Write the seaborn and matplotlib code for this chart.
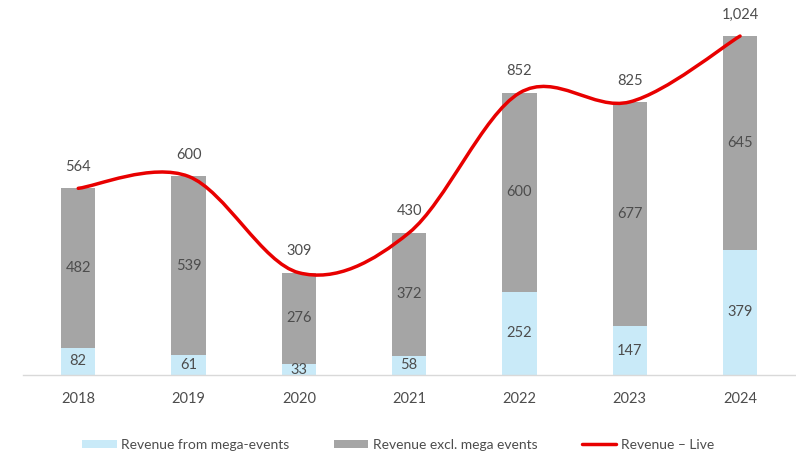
import numpy as np
import pandas as pd
import matplotlib
matplotlib.use("Agg")
import matplotlib.pyplot as plt
from matplotlib.path import Path
from matplotlib.patches import PathPatch, Patch
from matplotlib.lines import Line2D
import seaborn as sns

# Data
years = ["2018", "2019", "2020", "2021", "2022", "2023", "2024"]
mega_events = [82, 61, 33, 58, 252, 147, 379]
excl_mega = [482, 539, 276, 372, 600, 677, 645]
revenue_live = [564, 600, 309, 430, 852, 825, 1024]

BLUE = "#C9EAF8"
GRAY = "#A5A5A5"
RED = "#E80000"
TEXT = "#4D4D4D"

sns.set_theme(style="white")
plt.rcParams["font.family"] = ["Lato", "DejaVu Sans"]

fig = plt.figure(figsize=(7.96, 4.54), dpi=100)
ax = fig.add_axes([0.029, 0.174, 0.97, 0.802])

df = pd.DataFrame({
    "year": years,
    "mega": mega_events,
    "excl": excl_mega,
})
df["stack"] = df["mega"] + df["excl"]

bar_w = 0.31
# full stack in gray, then the mega-events part over it in light blue
sns.barplot(data=df, x="year", y="stack", color=GRAY, width=bar_w,
            saturation=1, errorbar=None, ax=ax, linewidth=0)
sns.barplot(data=df, x="year", y="mega", color=BLUE, width=bar_w,
            saturation=1, errorbar=None, ax=ax, linewidth=0)

# smoothed total line (Catmull-Rom as cubic Bezier segments)
xs = np.arange(len(years), dtype=float)
ys = np.array(revenue_live, dtype=float)
n = len(xs)
verts = [(xs[0], ys[0])]
codes = [Path.MOVETO]
for i in range(n - 1):
    p0 = i - 1 if i > 0 else i
    p3 = i + 2 if i + 2 < n else i + 1
    c1 = (xs[i] + (xs[i + 1] - xs[p0]) / 6, ys[i] + (ys[i + 1] - ys[p0]) / 6)
    c2 = (xs[i + 1] - (xs[p3] - xs[i]) / 6, ys[i + 1] - (ys[p3] - ys[i]) / 6)
    verts += [c1, c2, (xs[i + 1], ys[i + 1])]
    codes += [Path.CURVE4] * 3
ax.add_patch(PathPatch(Path(verts, codes), facecolor="none", edgecolor=RED,
                       linewidth=2.5, capstyle="round", zorder=5))

# segment labels
for i in range(n):
    m, e = mega_events[i], excl_mega[i]
    ax.text(i, m / 2, f"{m}", ha="center", va="center", fontsize=10.5, color=TEXT)
    ax.text(i, m + e / 2, f"{e}", ha="center", va="center", fontsize=10.5, color=TEXT)
    ax.annotate(f"{revenue_live[i]:,}", (i, m + e), xytext=(0, 15.5),
                textcoords="offset points", ha="center", va="center",
                fontsize=10.5, color=TEXT)

ax.set_xlim(-0.5, 6.5)
ax.set_ylim(0, 1100)
ax.set_xlabel("")
ax.set_ylabel("")
ax.set_yticks([])
ax.tick_params(axis="x", length=0, pad=12, labelsize=10.5, labelcolor=TEXT)
for s in ["top", "right", "left"]:
    ax.spines[s].set_visible(False)
ax.spines["bottom"].set_color("#D9D9D9")
ax.spines["bottom"].set_linewidth(1)

handles = [
    Patch(facecolor=BLUE, edgecolor="none", label="Revenue from mega-events"),
    Patch(facecolor=GRAY, edgecolor="none", label="Revenue excl. mega events"),
    Line2D([0], [0], color=RED, linewidth=2.5, label="Revenue \u2013 Live"),
]
fig.legend(handles=handles, loc="center", bbox_to_anchor=(0.5, 0.02),
           ncol=3, frameon=False, fontsize=10, labelcolor=TEXT,
           handlelength=2.5, handleheight=0.5, handletextpad=0.3,
           columnspacing=3.2)

fig.savefig("out.png", dpi=100)
